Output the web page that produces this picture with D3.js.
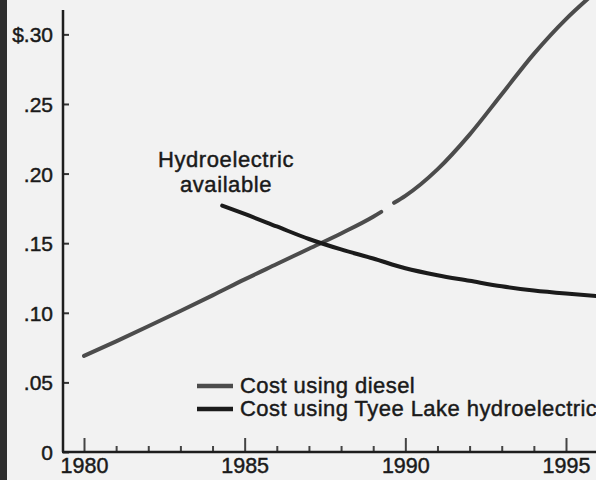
<!DOCTYPE html>
<html>
<head>
<meta charset="utf-8">
<script src="https://cdn.jsdelivr.net/npm/d3@7"></script>
<style>
    body { margin: 0; background: #f2f2f2; }
    svg { display: block; }
    text { font-family: "Liberation Sans", Arial, sans-serif; fill: #1a1a1a; stroke: #1a1a1a; stroke-width: 0.45px; }
</style>
</head>
<body>
<svg id="chart" width="596" height="480"></svg>
<script>
// values (cost per kWh, dollars)
var dieselYears = [1980, 1981, 1982, 1983, 1984, 1985, 1986, 1987, 1988, 1989, 1989.25, 1989.45, 1989.65, 1990, 1991, 1992, 1993, 1994, 1995, 1995.8];
var dieselCost  = [0.069, 0.0795, 0.0903, 0.1013, 0.1125, 0.124, 0.135, 0.146, 0.157, 0.169, 0.1725, null, 0.179, 0.184, 0.203, 0.228, 0.257, 0.286, 0.311, 0.328];

var hydroYears = [1984.3, 1985, 1986, 1987, 1988, 1989, 1990, 1991, 1992, 1993, 1994, 1995, 1996];
var hydroCost  = [0.177, 0.171, 0.162, 0.153, 0.1455, 0.139, 0.132, 0.127, 0.123, 0.119, 0.116, 0.1138, 0.112];

var yTickValues = [0, 0.05, 0.10, 0.15, 0.20, 0.25, 0.30];
var yTickLabels = ["0", ".05", ".10", ".15", ".20", ".25", "$.30"];
var xMajorYears = [1980, 1985, 1990, 1995];
var xMinorYears = d3.range(1980, 1997);

var seriesNames = ["Cost using diesel", "Cost using Tyee Lake hydroelectric"];
var seriesColors = ["#4c4c4c", "#1b1b1b"];

var svg = d3.select("#chart"),
    width = +svg.attr("width"),
    height = +svg.attr("height"),
    margin = {top: 10, left: 63, bottom: 28};

var x = d3.scaleLinear().domain([1980, 1995]).range([84, 566]);
var y = d3.scaleLinear().domain([0, 0.3175]).range([height - margin.bottom, margin.top]);

// scanned page edge on the left
svg.append("rect")
    .attr("x", 0).attr("y", 0)
    .attr("width", 7).attr("height", height)
    .attr("fill", "#2e2e2e");

var g = svg.append("g");

// y axis
var yAxis = g.append("g")
    .attr("transform", "translate(" + margin.left + ",0)")
    .call(d3.axisLeft(y)
        .tickValues(yTickValues)
        .tickFormat(function(d, i) { return yTickLabels[i]; })
        .tickSizeInner(-6)
        .tickSizeOuter(0)
        .tickPadding(10));
yAxis.select(".domain").remove();
yAxis.selectAll(".tick line").attr("stroke", "#333").attr("stroke-width", 2);
yAxis.selectAll(".tick text").attr("font-size", 21).attr("dy", "0.36em").attr("fill", null);
yAxis.attr("font-family", null);

// x axis: minor year ticks then the labelled 5-year ticks
var xMinor = g.append("g")
    .attr("transform", "translate(0," + y(0) + ")")
    .call(d3.axisBottom(x)
        .tickValues(xMinorYears.filter(function(d) { return xMajorYears.indexOf(d) < 0; }))
        .tickFormat("")
        .tickSizeInner(-6)
        .tickSizeOuter(0));
xMinor.select(".domain").remove();
xMinor.selectAll(".tick line").attr("stroke", "#444").attr("stroke-width", 2);

var xMajor = g.append("g")
    .attr("transform", "translate(0," + y(0) + ")")
    .call(d3.axisBottom(x)
        .tickValues(xMajorYears)
        .tickFormat(d3.format("d"))
        .tickSizeInner(-14)
        .tickSizeOuter(0)
        .tickPadding(6));
xMajor.select(".domain").remove();
xMajor.selectAll(".tick line").attr("stroke", "#444").attr("stroke-width", 2);
xMajor.selectAll(".tick text").attr("font-size", 21.5).attr("dy", "0.72em").attr("fill", null);
xMajor.attr("font-family", null);

// axis lines
g.append("line")
    .attr("x1", margin.left).attr("x2", margin.left)
    .attr("y1", y(0)).attr("y2", margin.top)
    .attr("stroke", "#1e1e1e").attr("stroke-width", 2.5);
g.append("line")
    .attr("x1", margin.left - 1).attr("x2", width)
    .attr("y1", y(0)).attr("y2", y(0))
    .attr("stroke", "#1e1e1e").attr("stroke-width", 2.5);

// curves
var line = d3.line()
    .defined(function(d) { return d[1] !== null; })
    .x(function(d) { return x(d[0]); })
    .y(function(d) { return y(d[1]); })
    .curve(d3.curveMonotoneX);

var diesel = dieselYears.map(function(d, i) { return [d, dieselCost[i]]; });
var hydro = hydroYears.map(function(d, i) { return [d, hydroCost[i]]; });

g.append("path")
    .datum(diesel)
    .attr("d", line)
    .attr("fill", "none")
    .attr("stroke", seriesColors[0])
    .attr("stroke-width", 4)
    .attr("stroke-linecap", "round");

g.append("path")
    .datum(hydro)
    .attr("d", line)
    .attr("fill", "none")
    .attr("stroke", seriesColors[1])
    .attr("stroke-width", 4)
    .attr("stroke-linecap", "round");

// annotation
var note = g.append("text")
    .attr("text-anchor", "middle")
    .attr("font-size", 22)
    .attr("letter-spacing", 0.6);
note.append("tspan").attr("x", 226).attr("y", 167).text("Hydroelectric");
note.append("tspan").attr("x", 226).attr("y", 192).text("available");

// legend
var legend = g.selectAll(".legend")
    .data(seriesNames)
    .enter().append("g")
        .attr("class", "legend")
        .attr("transform", function(d, i) { return "translate(197," + (393 + i * 23) + ")"; });

legend.append("line")
    .attr("x1", 0).attr("x2", 36)
    .attr("y1", -7).attr("y2", -7)
    .attr("stroke", function(d, i) { return seriesColors[i]; })
    .attr("stroke-width", 4.5);

legend.append("text")
    .attr("x", 43)
    .attr("font-size", 22)
    .attr("letter-spacing", 0.45)
    .text(function(d) { return d; });
</script>
</body>
</html>
